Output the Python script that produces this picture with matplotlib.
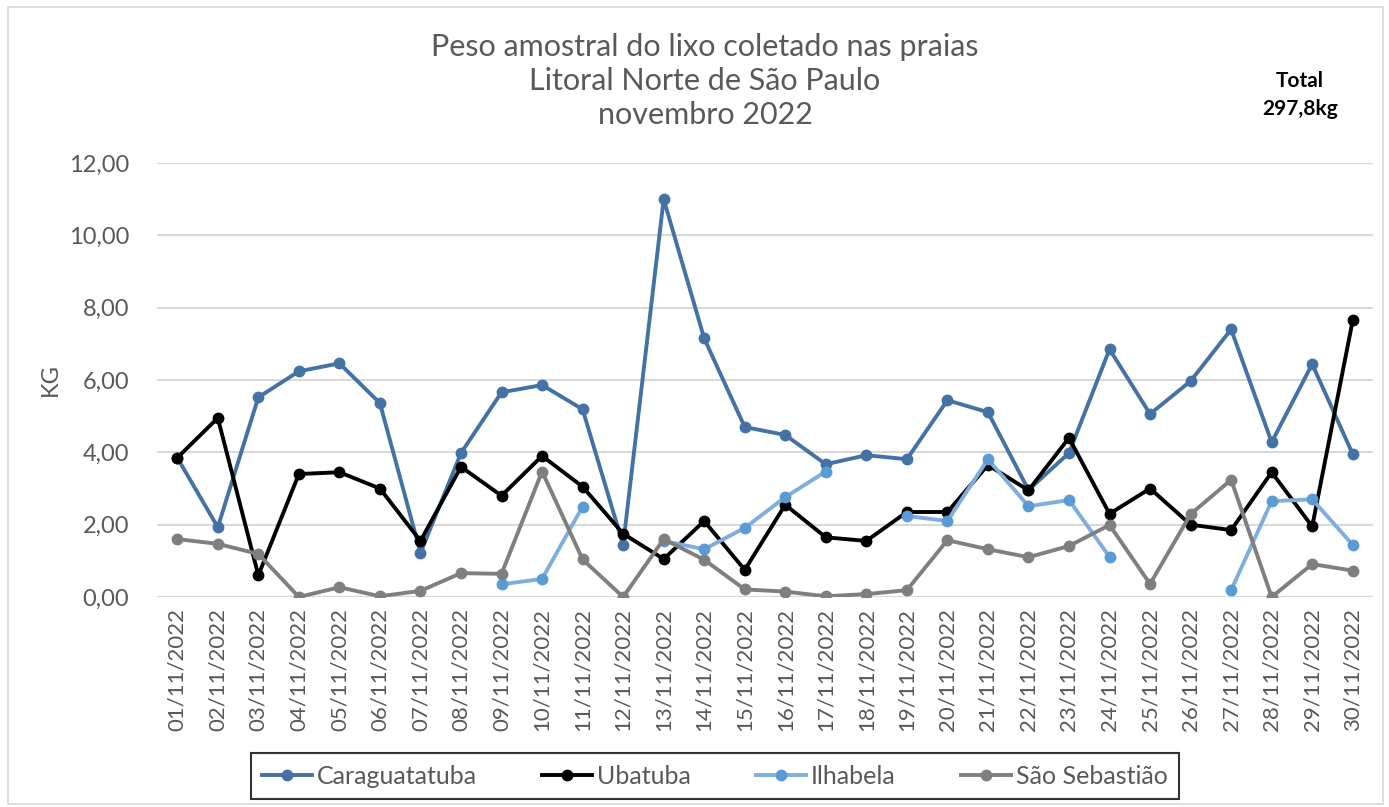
import numpy as np
import matplotlib
matplotlib.use("Agg")
import matplotlib.pyplot as plt
from matplotlib.patches import Rectangle

plt.rcParams['font.family'] = ['Lato', 'DejaVu Sans']

dates = [f"{d:02d}/11/2022" for d in range(1, 31)]

caraguatatuba = [3.85, 1.93, 5.52, 6.24, 6.46, 5.36, 1.22, 3.98, 5.66, 5.86,
                 5.19, 1.44, 11.0, 7.15, 4.70, 4.48, 3.67, 3.92, 3.81, 5.44,
                 5.11, 2.96, 3.98, 6.85, 5.06, 5.97, 7.40, 4.28, 6.44, 3.95]
ubatuba = [3.85, 4.95, 0.60, 3.40, 3.45, 3.00, 1.55, 3.60, 2.80, 3.90,
           3.05, 1.75, 1.05, 2.10, 0.75, 2.55, 1.65, 1.55, 2.35, 2.35,
           3.65, 2.95, 4.40, 2.30, 3.00, 2.00, 1.85, 3.45, 1.95, 7.65]
nan = np.nan
ilhabela = [nan, nan, nan, nan, nan, nan, nan, nan, 0.35, 0.50,
            2.50, nan, 1.55, 1.32, 1.91, 2.76, 3.47, nan, 2.24, 2.10,
            3.81, 2.51, 2.68, 1.11, nan, nan, 0.19, 2.65, 2.70, 1.44]
sao_sebastiao = [1.60, 1.47, 1.19, 0.00, 0.27, 0.02, 0.17, 0.66, 0.64, 3.47,
                 1.04, 0.00, 1.60, 1.03, 0.21, 0.15, 0.02, 0.08, 0.19, 1.57,
                 1.32, 1.10, 1.41, 1.99, 0.36, 2.29, 3.24, 0.00, 0.91, 0.73]

yticks = [0, 2, 4, 6, 8, 10, 12]
ytick_labels = ["0,00", "2,00", "4,00", "6,00", "8,00", "10,00", "12,00"]

W, H = 1389, 807
fig = plt.figure(figsize=(W / 100, H / 100), dpi=100)
ax = fig.add_axes([157 / W, 1 - 597 / H, (1373 - 157) / W, (597 - 163) / H])

x = np.arange(1, 31)
text_gray = "#595959"

series = [
    ("Caraguatatuba", caraguatatuba, "#4472A4", "#4472A4"),
    ("Ubatuba", ubatuba, "#000000", "#000000"),
    ("Ilhabela", ilhabela, "#7FAEDD", "#5B9BD5"),
    ("São Sebastião", sao_sebastiao, "#7F7F7F", "#7F7F7F"),
]
for name, vals, lc, mc in series:
    ax.plot(x, vals, color=lc, lw=2.8, marker="o", ms=7.5,
            markerfacecolor=mc, markeredgecolor=mc, label=name, zorder=3)

ax.set_xlim(0.5, 30.5)
ax.set_ylim(0, 12)
ax.set_yticks(yticks)
ax.set_yticklabels(ytick_labels, color=text_gray, fontsize=17)
ax.set_xticks(x)
ax.set_xticklabels(dates, rotation=90, color=text_gray, fontsize=16)
ax.tick_params(axis="y", length=0, pad=20)
ax.tick_params(axis="x", length=0, pad=8)
ax.grid(axis="y", color="#D9D9D9", lw=1.5, zorder=0)
for s in ax.spines.values():
    s.set_visible(False)
ax.axhline(0, color="#D9D9D9", lw=1.5, zorder=1)
ax.set_ylabel("KG", color=text_gray, fontsize=17, labelpad=6)

fig.text(705 / W, 1 - 81 / H, "Peso amostral do lixo coletado nas praias\nLitoral Norte de São Paulo\nnovembro 2022",
         ha="center", va="center", fontsize=22, color=text_gray, linespacing=1.28)
fig.text(1300 / W, 1 - 95 / H, "Total\n297,8kg", ha="center", va="center",
         fontsize=15, fontweight="bold", color="black", linespacing=1.45)

leg = fig.legend(loc="center", bbox_to_anchor=(715 / W, 1 - 776 / H), ncol=4,
                 frameon=True, fancybox=False, fontsize=18, handlelength=2.0,
                 columnspacing=2.6, borderpad=0.45, handletextpad=0.2)
leg.get_frame().set_edgecolor("black")
leg.get_frame().set_linewidth(1.5)
for t in leg.get_texts():
    t.set_color(text_gray)

fig.patches.append(Rectangle((8 / W, 3 / H), (W - 14) / W, (H - 10) / H,
                             transform=fig.transFigure, fill=False,
                             edgecolor="#D9D9D9", lw=1.2))

fig.savefig("out.png", dpi=100)
